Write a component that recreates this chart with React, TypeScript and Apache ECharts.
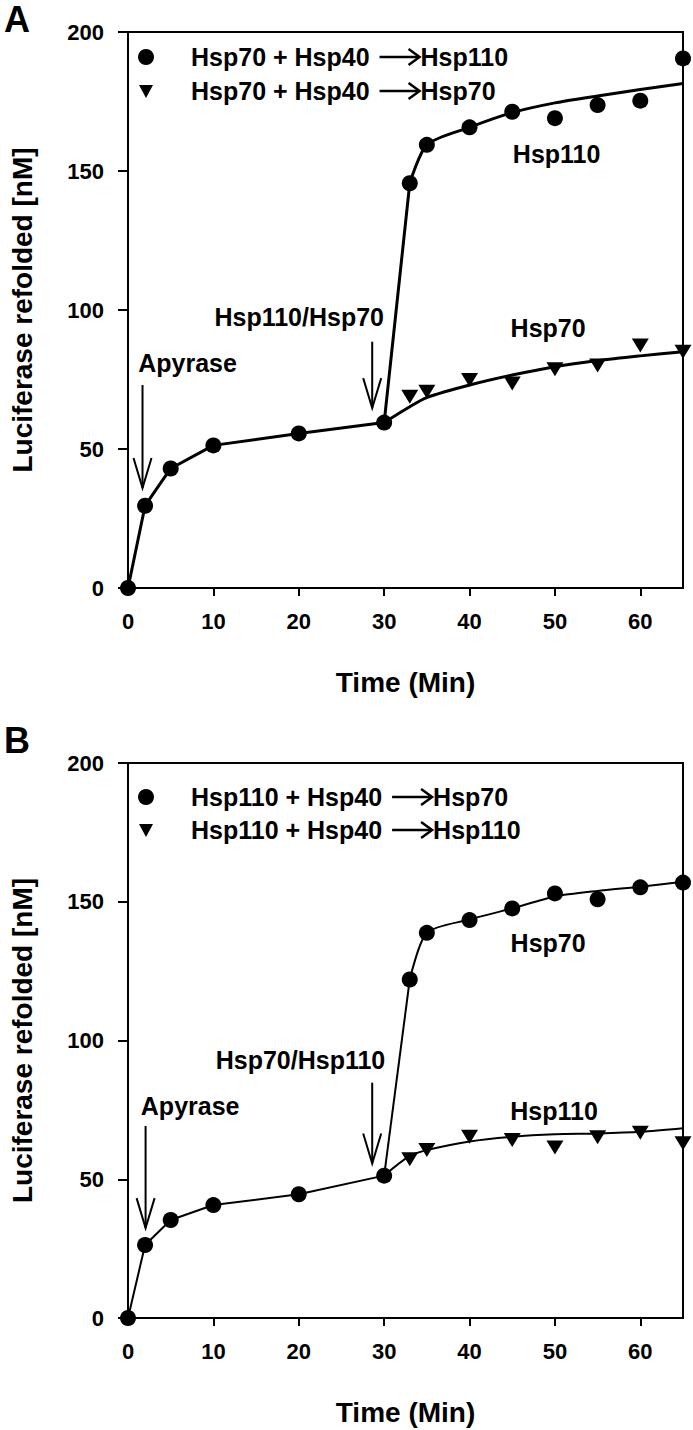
import React, { useEffect, useRef } from "react";
import * as echarts from "echarts";

// ---------- data ----------
const xTicks = [0, 10, 20, 30, 40, 50, 60];
const yTicks = [0, 50, 100, 150, 200];
const timeBase = [0, 2, 5, 10, 20, 30];
const timeAfter = [33, 35, 40, 45, 50, 55, 60, 65];

// Panel A
const aBase = [0, 29.6, 43.0, 51.3, 55.6, 59.5];
const aUpperPts = [145.6, 159.4, 165.7, 171.3, 169.0, 173.7, 175.3, 190.5];
const aUpperFit = [145.6, 159.4, 165.7, 171.0, 174.5, 177.0, 179.3, 181.5];
const aLowerPts = [68.8, 70.6, 74.8, 73.6, 78.7, 80.0, 87.2, 85.0];
const aLowerFit = [65.2, 68.5, 73.0, 76.6, 79.6, 81.8, 83.5, 85.0];

// Panel B
const bBase = [0, 26.3, 35.3, 40.7, 44.6, 51.3];
const bUpperPts = [122, 138.8, 143.4, 147.6, 153.0, 150.9, 155.2, 156.9];
const bUpperFit = [122, 138.8, 143.6, 147.6, 151.9, 153.9, 155.4, 157.2];
const bLowerPts = [57.2, 60.5, 65.3, 64.1, 61.4, 65.1, 66.8, 63.0];
const bLowerFit = [58.4, 60.5, 63.6, 65.3, 66.2, 66.5, 67.1, 68.4];

// legend texts
const aLegendPre = ["Hsp70 + Hsp40", "Hsp70 + Hsp40"];
const aLegendPost = ["Hsp110", "Hsp70"];
const bLegendPre = ["Hsp110 + Hsp40", "Hsp110 + Hsp40"];
const bLegendPost = ["Hsp70", "Hsp110"];

// annotations: [text, time, value, align]
const aNotes: [string, number, number, string][] = [
  ["Apyrase", 1.2, 81, "left"],
  ["Hsp110/Hsp70", 20.05, 97.6, "center"],
  ["Hsp70", 49.2, 93.5, "center"],
  ["Hsp110", 50.2, 156, "center"],
];
const bNotes: [string, number, number, string][] = [
  ["Apyrase", 1.5, 76.4, "left"],
  ["Hsp70/Hsp110", 20.2, 93, "center"],
  ["Hsp110", 49.9, 74.6, "center"],
  ["Hsp70", 49.2, 135.2, "center"],
];
// arrows: [time, fromValue, toValue]
const aArrows = [[1.7, 73, 36], [28.6, 88.6, 64.7]];
const bArrows = [[2.06, 69.2, 32.4], [28.6, 84.8, 55.7]];

const FONT = "'Liberation Sans', Arial, Helvetica, sans-serif";

const panels = [
  {
    letter: "A", letterY: 19, legendY: [57, 91], lineW: 3,
    base: aBase, upperPts: aUpperPts, upperFit: aUpperFit, lowerPts: aLowerPts, lowerFit: aLowerFit,
    pre: aLegendPre, post: aLegendPost, notes: aNotes, arrows: aArrows,
    grid: { left: 127, top: 32, width: 556, height: 556 },
  },
  {
    letter: "B", letterY: 740, legendY: [797, 830], lineW: 2,
    base: bBase, upperPts: bUpperPts, upperFit: bUpperFit, lowerPts: bLowerPts, lowerFit: bLowerFit,
    pre: bLegendPre, post: bLegendPost, notes: bNotes, arrows: bArrows,
    grid: { left: 127, top: 763, width: 556, height: 555 },
  },
];

export default function App() {
  const ref = useRef<HTMLDivElement>(null);
  useEffect(() => {
    document.body.style.margin = "0";
    const chart = echarts.init(ref.current!, null, { renderer: "svg" });

    const grids: any[] = [];
    const xAxes: any[] = [];
    const yAxes: any[] = [];
    const series: any[] = [];

    panels.forEach((p, i) => {
      grids.push({ ...p.grid, show: true, borderColor: "#000", borderWidth: 2, backgroundColor: "transparent" });
      xAxes.push({
        type: "value", gridIndex: i, min: 0, max: 65, interval: 10,
        axisLine: { show: true, onZero: false, lineStyle: { color: "#000", width: 2 } },
        axisTick: { show: true, length: 8, customValues: xTicks, lineStyle: { color: "#000", width: 2 } },
        axisLabel: { customValues: xTicks, color: "#000", fontSize: 22, fontWeight: "bold", fontFamily: FONT, margin: 22 },
        splitLine: { show: false },
        name: "Time (Min)", nameLocation: "middle", nameGap: 80,
        nameTextStyle: { color: "#000", fontSize: 28, fontWeight: "bold", fontFamily: FONT },
      });
      yAxes.push({
        type: "value", gridIndex: i, min: 0, max: 200, interval: 50,
        axisLine: { show: true, onZero: false, lineStyle: { color: "#000", width: 2 } },
        axisTick: { show: true, length: 10, customValues: yTicks, lineStyle: { color: "#000", width: 2 } },
        axisLabel: { customValues: yTicks, color: "#000", fontSize: 22, fontWeight: "bold", fontFamily: FONT, margin: 24 },
        splitLine: { show: false },
        name: "Luciferase refolded [nM]", nameLocation: "middle", nameGap: 92, nameRotate: 90,
        nameTextStyle: { color: "#000", fontSize: 28, fontWeight: "bold", fontFamily: FONT },
      });
      const ls = { color: "#000", width: p.lineW, opacity: 1 };
      const common = { xAxisIndex: i, yAxisIndex: i, silent: true, clip: false };
      series.push({
        ...common, type: "line", showSymbol: false, lineStyle: ls,
        data: timeBase.map((t, k) => [t, p.base[k]]),
      });
      series.push({
        ...common, type: "line", showSymbol: false, lineStyle: ls,
        data: [[30, p.base[5]], [timeAfter[0], p.upperFit[0]]],
      });
      series.push({
        ...common, type: "line", showSymbol: false, lineStyle: ls, smooth: 0.25,
        data: timeAfter.map((t, k) => [t, p.upperFit[k]]),
      });
      series.push({
        ...common, type: "line", showSymbol: false, lineStyle: ls, smooth: 0.3,
        data: [[30, p.base[5]], ...timeAfter.map((t, k) => [t, p.lowerFit[k]])],
      });
      series.push({
        ...common, type: "scatter", symbol: "circle", symbolSize: 16, z: 5,
        itemStyle: { color: "#000", opacity: 1 },
        data: [...timeBase.map((t, k) => [t, p.base[k]]), ...timeAfter.map((t, k) => [t, p.upperPts[k]])],
      });
      series.push({
        ...common, type: "scatter", symbol: "triangle", symbolRotate: 180, symbolSize: [17, 14], z: 5,
        itemStyle: { color: "#000", opacity: 1 },
        data: timeAfter.map((t, k) => [t, p.lowerPts[k]]),
      });
    });

    chart.setOption({
      animation: false,
      backgroundColor: "#fff",
      grid: grids,
      xAxis: xAxes,
      yAxis: yAxes,
      series,
    });

    // measurement for legend text
    const ctx = document.createElement("canvas").getContext("2d")!;
    const legendFont = `bold 25px ${FONT}`;
    ctx.font = legendFont;

    const graphic: any[] = [];
    panels.forEach((p, i) => {
      const px = (t: number, v: number) =>
        chart.convertToPixel({ xAxisIndex: i, yAxisIndex: i }, [t, v]) as number[];
      // panel letter
      graphic.push({
        type: "text", x: 4, y: p.letterY,
        style: { text: p.letter, font: `bold 36px ${FONT}`, fill: "#000", textAlign: "left", textVerticalAlign: "middle" },
      });
      // legend
      p.pre.forEach((pre, r) => {
        const y = p.legendY[r];
        if (r === 0) graphic.push({ type: "circle", shape: { cx: 146, cy: y, r: 8 }, style: { fill: "#000" } });
        else graphic.push({ type: "polygon", shape: { points: [[139, y - 6], [153, y - 6], [146, y + 7]] }, style: { fill: "#000" } });
        const x1 = 191;
        graphic.push({
          type: "text", x: x1, y,
          style: { text: pre, font: legendFont, fill: "#000", textAlign: "left", textVerticalAlign: "middle" },
        });
        const w = ctx.measureText(pre).width;
        const a0 = x1 + w + 10;
        const a1 = a0 + 40;
        graphic.push({ type: "line", shape: { x1: a0, y1: y, x2: a1 - 1, y2: y }, style: { stroke: "#000", lineWidth: 2.5 } });
        graphic.push({ type: "polyline", shape: { points: [[a1 - 11, y - 8], [a1, y], [a1 - 11, y + 8]] }, style: { stroke: "#000", lineWidth: 2.5, fill: null } });
        graphic.push({
          type: "text", x: a1 + 1, y,
          style: { text: p.post[r], font: legendFont, fill: "#000", textAlign: "left", textVerticalAlign: "middle" },
        });
      });
      // annotations
      p.notes.forEach(([txt, t, v, al]) => {
        const [x, y] = px(t, v);
        graphic.push({
          type: "text", x, y,
          style: { text: txt, font: legendFont, fill: "#000", textAlign: al, textVerticalAlign: "middle" },
        });
      });
      p.arrows.forEach(([t, v0, v1]) => {
        const [x, y0] = px(t, v0);
        const [, y1] = px(t, v1);
        graphic.push({ type: "line", shape: { x1: x, y1: y0, x2: x, y2: y1 }, style: { stroke: "#000", lineWidth: 2 } });
        graphic.push({ type: "polyline", shape: { points: [[x - 9, y1 - 30], [x, y1], [x + 9, y1 - 30]] }, style: { stroke: "#000", lineWidth: 2, fill: null } });
      });
    });
    chart.setOption({ graphic });

    return () => chart.dispose();
  }, []);
  return <div ref={ref} style={{ width: 693, height: 1430 }} />;
}
